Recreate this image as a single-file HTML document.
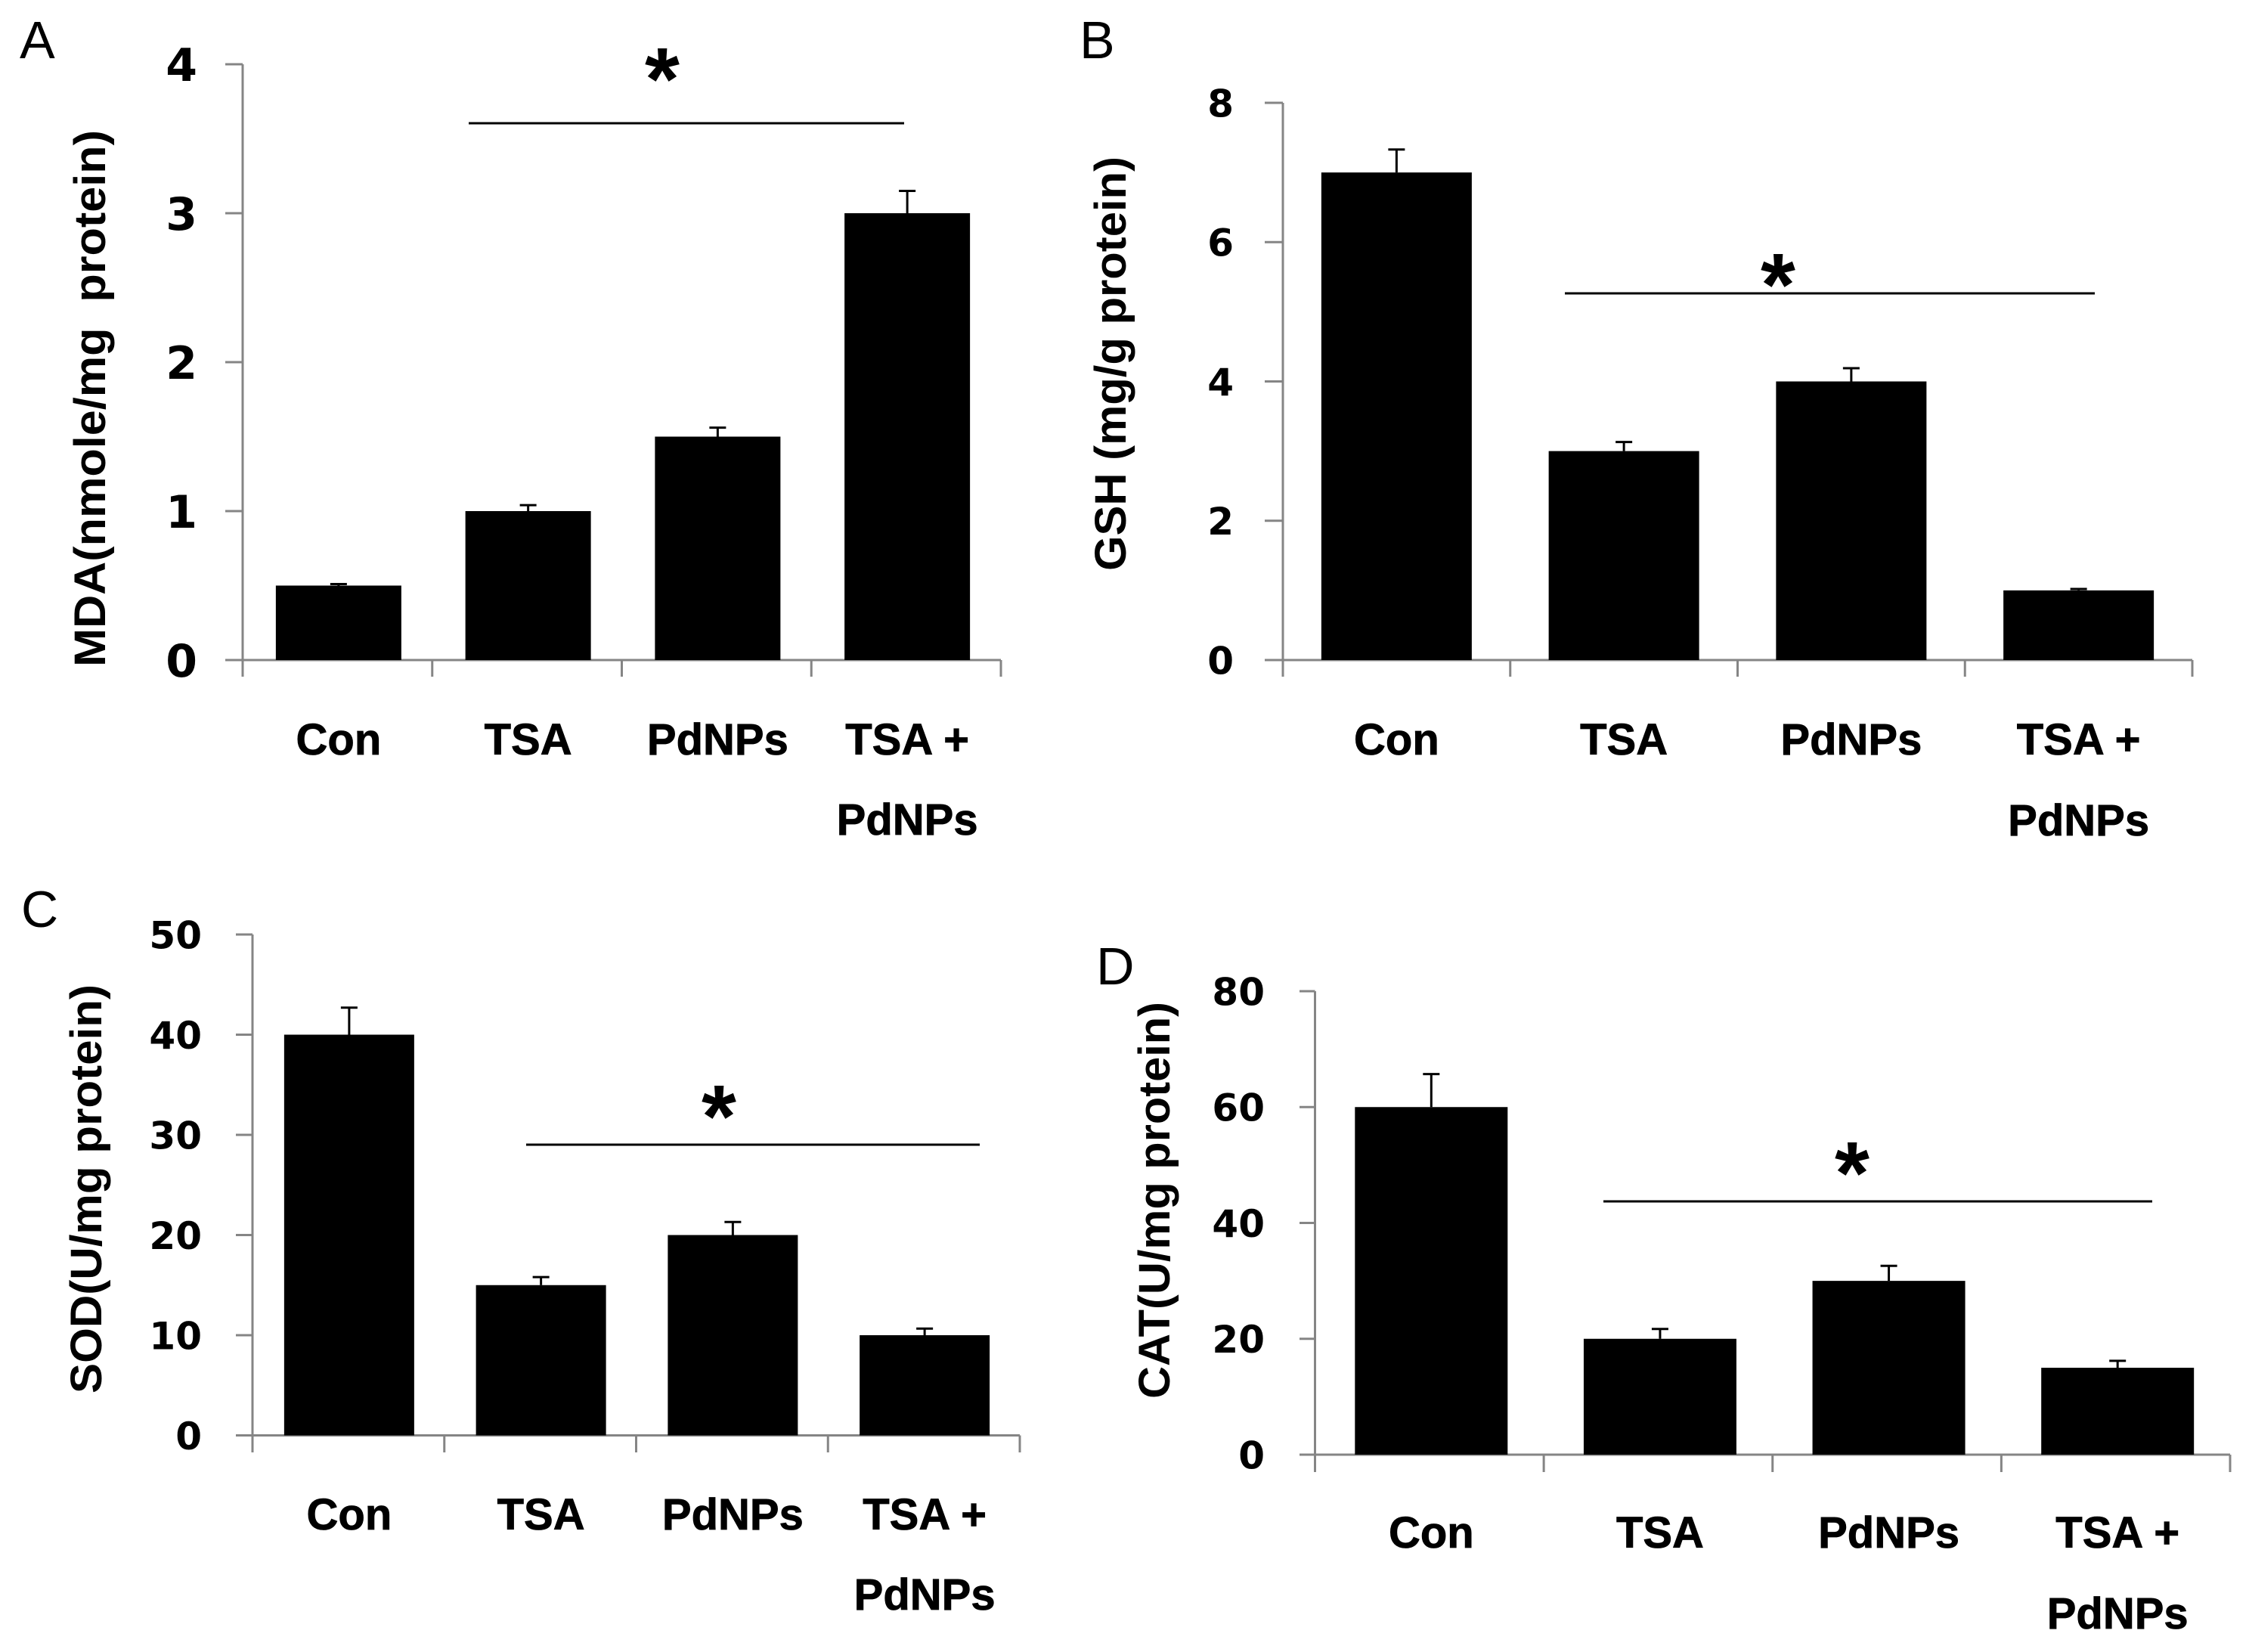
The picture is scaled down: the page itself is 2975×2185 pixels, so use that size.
<!DOCTYPE html>
<html lang="en">
<head>
<meta charset="utf-8">
<title>Oxidative stress markers: MDA, GSH, SOD, CAT</title>
<style>
html,body{margin:0;padding:0;background:#fff;}
svg{display:block;}
text{font-family:"Liberation Sans",sans-serif;fill:#000;white-space:pre;}
.tick{font-family:"DejaVu Sans",sans-serif;font-weight:700;}
.cat{font-weight:700;font-size:58px;stroke:#000;stroke-width:0.8px;}
.title{font-weight:700;}
.star{font-weight:700;font-size:118px;}
.letter{font-weight:400;}
</style>
</head>
<body>
<svg id="figure" xmlns="http://www.w3.org/2000/svg" width="2975" height="2185" viewBox="0 0 2975 2185"></svg>
<script>
const categories = [["Con"], ["TSA"], ["PdNPs"], ["TSA +", "PdNPs"]];

const mdaValues = [0.5, 1, 1.5, 3];
const mdaErrors = [0.01, 0.04, 0.06, 0.15];
const mdaTicks = [0, 1, 2, 3, 4];

const gshValues = [7, 3, 4, 1];
const gshErrors = [0.33, 0.13, 0.19, 0.02];
const gshTicks = [0, 2, 4, 6, 8];

const sodValues = [40, 15, 20, 10];
const sodErrors = [2.7, 0.8, 1.3, 0.66];
const sodTicks = [0, 10, 20, 30, 40, 50];

const catValues = [60, 20, 30, 15];
const catErrors = [5.7, 1.7, 2.6, 1.2];
const catTicks = [0, 20, 40, 60, 80];

const panels = [
  {id:'a', letter:'A', lx:26, ly:77, lf:70, title:'MDA(nmole/mg  protein)', tb:139, tTop:172, tBot:882, tf:58,
   values:mdaValues, errors:mdaErrors, ticks:mdaTicks,
   x0:321, x1:1324, top:85, base:873, tl:298, td:895, lblR:261, tkf:60, bw:166, cw:22,
   shift:1.5, b1:998, b2:1104, sx0:620, sx1:1196, sy:163, starX:876, starY:87},
  {id:'b', letter:'B', lx:1428, ly:77, lf:70, title:'GSH (mg/g protein)', tb:1489, tTop:207, tBot:755, tf:58,
   values:gshValues, errors:gshErrors, ticks:gshTicks,
   x0:1697, x1:2900, top:136, base:873, tl:1673, td:895, lblR:1632, tkf:50, bw:199, cw:22,
   shift:0, b1:998, b2:1105, sx0:2070, sx1:2771, sy:388, starX:2352, starY:359},
  {id:'c', letter:'C', lx:28, ly:1226, lf:68, title:'SOD(U/mg protein)', tb:134, tTop:1302, tBot:1843, tf:58,
   values:sodValues, errors:sodErrors, ticks:sodTicks,
   x0:334, x1:1349, top:1236, base:1898.5, tl:312, td:1921, lblR:267, tkf:50, bw:172, cw:22,
   shift:1, b1:2023, b2:2129, sx0:696, sx1:1296, sy:1514, starX:951, starY:1459},
  {id:'d', letter:'D', lx:1450, ly:1302, lf:70, title:'CAT(U/mg protein)', tb:1547, tTop:1325, tBot:1850, tf:58,
   values:catValues, errors:catErrors, ticks:catTicks,
   x0:1739.5, x1:2950, top:1311, base:1924, tl:1719, td:1947, lblR:1673, tkf:50, bw:202, cw:22,
   shift:2.5, b1:2047, b2:2154, sx0:2121, sx1:2847, sy:1589, starX:2450, starY:1534}
];

const svgNS = 'http://www.w3.org/2000/svg';
const root = document.getElementById('figure');

function make(parent, tag, attrs, txt) {
  const el = document.createElementNS(svgNS, tag);
  for (const k in attrs) el.setAttribute(k, attrs[k]);
  if (txt !== undefined) el.textContent = txt;
  parent.appendChild(el);
  return el;
}

function drawPanel(p) {
  const g = make(root, 'g', {});
  
  

  const maxV = p.ticks[p.ticks.length - 1];
  const yOf = v => p.base - (v / maxV) * (p.base - p.top);
  const band = (p.x1 - p.x0) / categories.length;
  const xOf = i => p.x0 + band * (i + 0.5) + p.shift;
  const axisColor = '#858585';

  const letter = make(g, 'text', {x:p.lx, y:p.ly, 'font-size':p.lf, class:'letter'}, p.letter);
  
  

  const yTitle = make(g, 'text', {
    transform:'translate(' + p.tb + ',' + p.tBot + ') rotate(-90)',
    'font-size':p.tf, class:'title',
    textLength:(p.tBot - p.tTop), lengthAdjust:'spacingAndGlyphs'
  }, p.title);
  
  

  const yAxis = make(g, 'line', {x1:p.x0, x2:p.x0, y1:p.top, y2:p.base, stroke:axisColor, 'stroke-width':3});
  
  

  const xAxis = make(g, 'line', {x1:p.x0, x2:p.x1, y1:p.base, y2:p.base, stroke:axisColor, 'stroke-width':3});
  
  

  p.ticks.forEach(t => {
    const y = yOf(t);
    const mark = make(g, 'line', {x1:p.tl, x2:p.x0, y1:y, y2:y, stroke:axisColor, 'stroke-width':3});
    
    
    const lab = make(g, 'text', {
      x:p.lblR, y:y + p.tkf * 0.365, 'text-anchor':'end', 'font-size':p.tkf, class:'tick'
    }, String(t));
    
    
  });

  for (let i = 0; i <= categories.length; i++) {
    const x = p.x0 + band * i;
    const mark = make(g, 'line', {x1:x, x2:x, y1:p.base, y2:p.td, stroke:axisColor, 'stroke-width':3});
    
    
  }

  categories.forEach((lines, i) => {
    const cx = xOf(i);
    const v = p.values[i];
    const barTop = yOf(v);
    const errTop = yOf(v + p.errors[i]);

    const stem = make(g, 'line', {x1:cx, x2:cx, y1:barTop, y2:errTop, stroke:'#000', 'stroke-width':3});
    
    
    const cap = make(g, 'line', {x1:cx - p.cw / 2, x2:cx + p.cw / 2, y1:errTop, y2:errTop, stroke:'#000', 'stroke-width':3});
    
    

    const bar = make(g, 'rect', {x:cx - p.bw / 2, y:barTop, width:p.bw, height:p.base - barTop, fill:'#000'});
    
    

    lines.forEach((ln, j) => {
      const by = j === 0 ? p.b1 : p.b2;
      const lab = make(g, 'text', {x:cx, y:by, 'text-anchor':'middle', class:'cat'}, ln);
      
      
    });
  });

  const sig = make(g, 'line', {x1:p.sx0, x2:p.sx1, y1:p.sy, y2:p.sy, stroke:'#000', 'stroke-width':3});
  
  

  const star = make(g, 'text', {x:p.starX, y:p.starY + 58, 'text-anchor':'middle', class:'star'}, '*');
  
  
}

panels.forEach(drawPanel);
</script>
</body>
</html>
